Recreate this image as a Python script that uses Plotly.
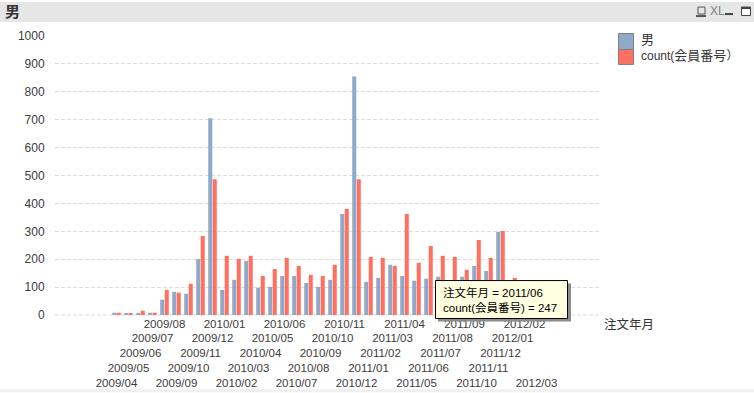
import plotly.graph_objects as go

months = ["2009/04","2009/05","2009/06","2009/07","2009/08","2009/09","2009/10","2009/11","2009/12",
          "2010/01","2010/02","2010/03","2010/04","2010/05","2010/06","2010/07","2010/08","2010/09",
          "2010/10","2010/11","2010/12","2011/01","2011/02","2011/03","2011/04","2011/05","2011/06",
          "2011/07","2011/08","2011/09","2011/10","2011/11","2011/12","2012/01","2012/02","2012/03"]
male = [8,5,5,8,55,83,76,201,705,90,126,194,98,101,140,140,115,101,126,362,855,119,133,180,140,123,130,137,125,137,176,158,298,70,50,30]
count_id = [8,5,15,8,90,80,112,283,487,212,201,212,140,165,205,176,144,140,180,380,487,208,205,176,362,187,247,212,208,162,269,205,301,133,80,50]
y_ticks = list(range(0, 1001, 100))
series_names = ["男", "count(会員番号）"]
colors = ["#8ea9c9", "#ff7060"]
FONT = "Liberation Sans, Noto Sans CJK JP, sans-serif"
W, H = 754, 393
L, R, T, B = 55, 601, 36, 315.5

def px(x): return (x - L) / (R - L)
def py(y): return (B - y) / (B - T)

idx = list(range(len(months)))
# rows: 2009/04 lowest, 2009/08 highest, repeating every five months
tick_text = ["<br>" * (4 - (i % 5)) + m for i, m in enumerate(months)]

fig = go.Figure()
fig.add_bar(x=idx, y=male, name=series_names[0], marker=dict(color=colors[0], line_width=0))
fig.add_bar(x=idx, y=count_id, name=series_names[1], marker=dict(color=colors[1], line_width=0))

def rect(x0, y0, x1, y1, fill, line=None, lw=1, layer="above"):
    return dict(type="rect", xref="paper", yref="paper", x0=px(x0), x1=px(x1), y0=py(y0), y1=py(y1),
                fillcolor=fill, line=dict(color=line or fill, width=lw if line else 0), layer=layer)

shapes = [
    rect(0, 2, W, 22, "#e6e6e6", layer="below"),
    rect(0, 390, W, H, "#f0f0f0", layer="below"),
    # baseline drawn like the gridlines
    dict(type="line", xref="paper", yref="paper", x0=0, x1=1, y0=0, y1=0, layer="below",
         line=dict(color="#dcdcdc", width=1, dash="4px,2px")),
    # tooltip shadow and box
    rect(438, 284, 571, 322, "#8c8c8c"),
    rect(435.5, 281, 567.5, 319, "#ffffe1", "#000000", 1),
    # legend swatches
    rect(618.5, 33.5, 633.5, 49.5, colors[0], "#808080", 1),
    rect(618.5, 49.5, 633.5, 64.5, colors[1], "#808080", 1),
    # window icons
    rect(698, 7, 705, 14, "rgba(0,0,0,0)", "#555555", 1),
    rect(696, 15, 706, 17, "#555555"),
    rect(725, 13, 733, 15, "#444444"),
    rect(741.5, 7, 750.5, 15.5, "#ffffff", "#444444", 1),
    rect(741.5, 7, 750.5, 9, "#444444"),
]

def note(x, y, text, size=12, color="#333333", xanchor="left", yanchor="middle", align="left"):
    return dict(xref="paper", yref="paper", x=px(x), y=py(y), text=text, showarrow=False,
                font=dict(size=size, color=color, family=FONT), xanchor=xanchor, yanchor=yanchor,
                align=align, xshift=0, yshift=0, borderpad=0, borderwidth=0)

annotations = [
    note(5, 11.5, "<b>男</b>", 15, "#333333"),
    note(710, 11, "XL", 12, "#808080"),
    note(641, 40, series_names[0], 13, "#333333"),
    note(641, 56, 'count(<span style="font-size:13px">会員番号</span>）', 12, "#333333"),
    note(604, 326, "注文年月", 12.5, "#333333"),
    note(442.5, 300, "注文年月 = 2011/06<br>count(会員番号) = 247", 11.5, "#000000"),
]

fig.update_layout(
    width=W, height=H, autosize=False,
    margin=dict(l=L, r=W - R, t=T, b=H - B, pad=0),
    paper_bgcolor="#ffffff", plot_bgcolor="#ffffff",
    barmode="group", bargap=0.25, bargroupgap=0.1,
    showlegend=False, font=dict(family=FONT, size=12, color="#333333"),
    shapes=shapes, annotations=annotations,
    xaxis=dict(tickmode="array", tickvals=idx, ticktext=tick_text, range=[-5.125, 40.375], automargin=False,
               showgrid=False, zeroline=False, showline=False, ticks="", tickangle=0,
               tickfont=dict(size=11.5, color="#3c3c3c", family=FONT)),
    yaxis=dict(tickmode="array", tickvals=y_ticks, range=[0, 1000], showline=False, zeroline=False, automargin=False,
               gridcolor="#dcdcdc", griddash="4px,2px", gridwidth=1, ticks="outside", ticklen=7,
               tickcolor="rgba(0,0,0,0)", tickfont=dict(size=12, color="#3c3c3c", family=FONT)),
)
fig.write_html("out.html", config=dict(displayModeBar=False),
               post_script="document.body.style.margin='0';document.documentElement.style.overflow='hidden';")
